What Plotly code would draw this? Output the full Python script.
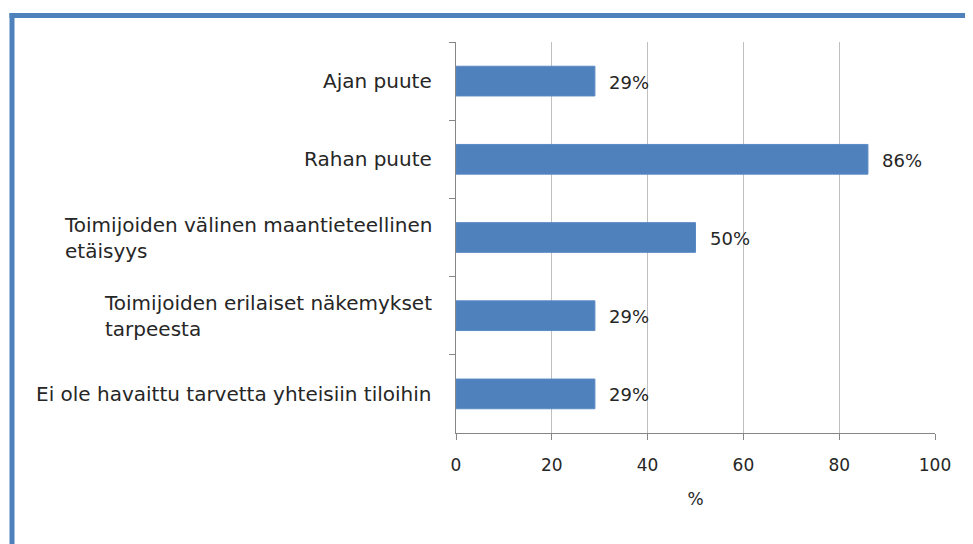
import plotly.graph_objects as go

categories = [
    "Ajan puute",
    "Rahan puute",
    "Toimijoiden välinen maantieteellinen<br>etäisyys",
    "Toimijoiden erilaiset näkemykset<br>tarpeesta",
    "Ei ole havaittu tarvetta yhteisiin tiloihin",
]
values = [29, 86, 50, 29, 29]
x_ticks = [0, 20, 40, 60, 80, 100]

BLUE = "#4F81BD"
FONT = "DejaVu Sans"
TXT = "#262626"

OFF = 8  # default body margin of the page
W, H = 973, 544 - OFF
L, T = 456 - OFF, 42 - OFF
R = W - (935 - OFF)
B = H - (433 - OFF)
pw, ph = W - L - R, H - T - B

def px_x(p):
    return (p - OFF - L) / pw

def px_y(p):
    return 1 - (p - OFF - T) / ph

fig = go.Figure()
fig.add_trace(go.Bar(
    x=values, y=categories, orientation="h",
    marker=dict(color=BLUE, line=dict(color="#5b8ac4", width=1)),
    width=0.38,
))

for c, v in zip(categories, values):
    fig.add_annotation(
        x=v, y=c, xref="x", yref="y", xshift=12, yshift=-1,
        text=f"{v}%", showarrow=False, xanchor="left",
        font=dict(family=FONT, size=18, color=TXT),
    )
    fig.add_annotation(
        x=0, xref="paper", xshift=-22, y=c, yref="y",
        text=c, showarrow=False, xanchor="right", align="left",
        font=dict(family=FONT, size=20, color=TXT),
    )

# frame
fig.add_shape(type="line", xref="paper", yref="paper",
              x0=px_x(12), x1=px_x(12), y0=px_y(13), y1=px_y(600),
              line=dict(color=BLUE, width=5))
fig.add_shape(type="line", xref="paper", yref="paper",
              x0=px_x(9.5), x1=px_x(1000), y0=px_y(15.5), y1=px_y(15.5),
              line=dict(color=BLUE, width=5))

fig.update_layout(
    width=W, height=H,
    margin=dict(l=L, r=R, t=T, b=B),
    plot_bgcolor="white", paper_bgcolor="white",
    showlegend=False,
    font=dict(family=FONT, size=17, color=TXT),
)
fig.update_xaxes(
    range=[0, 100], tickvals=x_ticks, showgrid=True, gridcolor="#c0c0c0", gridwidth=1,
    zeroline=False, showline=True, linecolor="#868686", linewidth=1,
    ticks="outside", ticklen=6, tickcolor="#868686", ticklabelstandoff=11,
    tickfont=dict(family=FONT, size=17, color=TXT),
    title=dict(text="%", font=dict(family=FONT, size=17, color=TXT), standoff=18),
)
fig.update_yaxes(
    categoryorder="array", categoryarray=categories, autorange="reversed",
    showticklabels=False, showline=True, linecolor="#868686", linewidth=1,
    ticks="outside", ticklen=6, tickcolor="#868686", tickson="boundaries",
    showgrid=False,
)

fig.write_html("out.html")
